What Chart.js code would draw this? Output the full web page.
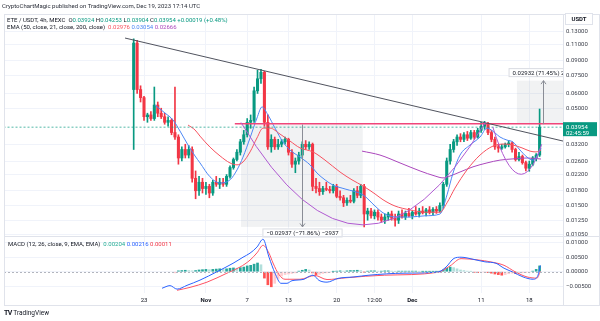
<!DOCTYPE html>
<html>
<head>
<meta charset="utf-8">
<script src="https://cdn.jsdelivr.net/npm/chart.js"></script>
<style>
html, body { margin: 0; padding: 0; background: #fff; }
#wrap { position: relative; width: 600px; height: 321px; overflow: hidden; font-family: Roboto, "Liberation Sans", sans-serif; color: #131722; }
#chartCanvas { position: absolute; left: 0; top: 0; }
.txt { position: absolute; white-space: nowrap; font-size: 6px; line-height: 7px; }
.g { color: #089981; }
.r { color: #f7525f; }
.b { color: #4d88f5; }
.p { color: #ab47bc; }
</style>
</head>
<body>
<div id="wrap">
  <canvas id="chartCanvas" width="600" height="321"></canvas>
  <div class="txt" style="left:2px;top:2px;color:#2a2e39">CryptoChartMagic published on TradingView.com, Dec 19, 2023 17:14 UTC</div>
  <div class="txt" style="left:7px;top:15.5px">ETE / USDT, 4h, MEXC&nbsp; O<span class="g">0.03924</span> H<span class="g">0.04253</span> L<span class="g">0.03904</span> C<span class="g">0.03954</span> <span class="g">+0.00019 (+0.48%)</span></div>
  <div class="txt" style="left:7px;top:22.5px">EMA (50, close, 21, close, 200, close)&nbsp; <span class="r">0.02976</span> <span class="b">0.03054</span> <span class="p">0.02666</span></div>
  <div class="txt" style="left:8px;top:239.5px">MACD (12, 26, close, 9, EMA, EMA)&nbsp; <span style="color:#22ab94">0.00204</span> <span style="color:#2962ff">0.00216</span> <span style="color:#f23645">0.00011</span></div>
  <div class="txt" style="left:4px;top:309.5px;font-size:6.5px"><b style="letter-spacing:-0.6px;font-size:7px">TV</b> TradingView</div>
</div>
<script>
// time unit: days since Oct 23 2023 00:00 UTC, candles every 12h
const candleStart = -1.5;
const candleStep = 0.5;

const opens = [0.063,0.112,0.063,0.057,0.045,0.046,0.044,0.052,0.047,0.045,
  0.042,0.043,0.037,0.035,0.027,0.030,0.028,0.030,0.021,0.018,
  0.020,0.0185,0.019,0.0175,0.020,0.0195,0.020,0.0195,0.0215,0.024,
  0.0265,0.029,0.033,0.036,0.042,0.043,0.062,0.072,0.078,0.042,
  0.031,0.034,0.031,0.032,0.033,0.034,0.029,0.025,0.026,0.028,
  0.032,0.031,0.032,0.019,0.0185,0.0178,0.0185,0.0183,0.018,0.019,
  0.0168,0.0165,0.0155,0.016,0.0158,0.018,0.017,0.019,0.0135,0.014,
  0.0132,0.0138,0.013,0.0125,0.013,0.0135,0.0128,0.0125,0.0135,0.013,
  0.0136,0.0132,0.0138,0.0135,0.014,0.0137,0.0142,0.0138,0.0143,0.014,
  0.015,0.0195,0.026,0.030,0.033,0.035,0.034,0.036,0.0345,0.037,
  0.035,0.038,0.040,0.041,0.037,0.034,0.031,0.0305,0.031,0.032,
  0.0325,0.030,0.0265,0.0275,0.0255,0.0238,0.025,0.027,0.028];
const highs = [0.118,0.116,0.066,0.058,0.047,0.048,0.065,0.054,0.050,0.047,
  0.045,0.044,0.065,0.036,0.031,0.032,0.0315,0.031,0.023,0.0215,
  0.021,0.020,0.0195,0.0205,0.0215,0.021,0.021,0.022,0.0245,0.027,
  0.030,0.034,0.038,0.044,0.046,0.065,0.080,0.081,0.079,0.046,
  0.036,0.035,0.034,0.034,0.035,0.0345,0.030,0.027,0.029,0.033,
  0.0335,0.033,0.0325,0.021,0.020,0.019,0.020,0.019,0.0195,0.0195,
  0.018,0.017,0.0165,0.017,0.0185,0.019,0.0195,0.0195,0.0145,0.0145,
  0.0142,0.0142,0.0135,0.0135,0.0138,0.014,0.0135,0.014,0.0142,0.014,
  0.0145,0.014,0.0148,0.0145,0.0148,0.0145,0.0148,0.0146,0.0148,0.0155,
  0.020,0.027,0.032,0.034,0.036,0.0365,0.037,0.0375,0.038,0.038,
  0.039,0.042,0.0425,0.042,0.038,0.035,0.032,0.032,0.0325,0.0335,
  0.033,0.0305,0.029,0.028,0.026,0.026,0.0275,0.0285,0.0495];
const lows = [0.030,0.060,0.054,0.043,0.042,0.043,0.043,0.045,0.044,0.041,
  0.040,0.036,0.034,0.025,0.026,0.027,0.027,0.020,0.0163,0.017,
  0.0175,0.0172,0.0165,0.017,0.019,0.0185,0.019,0.019,0.021,0.0235,
  0.026,0.028,0.032,0.035,0.039,0.042,0.060,0.068,0.040,0.030,
  0.029,0.030,0.030,0.031,0.032,0.028,0.024,0.0225,0.025,0.027,
  0.030,0.030,0.018,0.0175,0.017,0.0172,0.018,0.0175,0.0175,0.0165,
  0.016,0.0148,0.015,0.0155,0.0155,0.0165,0.0165,0.0115,0.0125,0.0128,
  0.0127,0.0125,0.0122,0.012,0.0125,0.0125,0.0116,0.012,0.0128,0.0126,
  0.013,0.0127,0.0133,0.013,0.0135,0.0132,0.0135,0.0133,0.0136,0.0138,
  0.0145,0.019,0.025,0.029,0.0315,0.033,0.033,0.0335,0.034,0.034,
  0.0345,0.037,0.0385,0.036,0.033,0.030,0.029,0.030,0.0305,0.031,
  0.029,0.026,0.026,0.025,0.023,0.0229,0.0245,0.026,0.0275];
const closes = [0.112,0.063,0.057,0.045,0.046,0.044,0.052,0.047,0.045,0.042,
  0.043,0.037,0.035,0.027,0.030,0.028,0.030,0.021,0.018,0.020,
  0.0185,0.019,0.0175,0.020,0.0195,0.020,0.0195,0.0215,0.024,0.0265,
  0.029,0.033,0.036,0.042,0.043,0.062,0.072,0.078,0.042,0.031,
  0.034,0.031,0.032,0.033,0.034,0.029,0.025,0.026,0.028,0.032,
  0.031,0.032,0.019,0.0185,0.0178,0.0185,0.0183,0.018,0.019,0.0168,
  0.0165,0.0155,0.016,0.0158,0.018,0.017,0.019,0.0135,0.014,0.0132,
  0.0138,0.013,0.0125,0.013,0.0135,0.0128,0.0125,0.0135,0.013,0.0136,
  0.0132,0.0138,0.0135,0.014,0.0137,0.0142,0.0138,0.0143,0.014,0.015,
  0.0195,0.026,0.030,0.033,0.035,0.034,0.036,0.0345,0.037,0.035,
  0.038,0.040,0.041,0.037,0.034,0.031,0.0305,0.031,0.032,0.0325,
  0.030,0.0265,0.0275,0.0255,0.0238,0.025,0.027,0.028,0.03954];

const ema50Days = [6.40,7.41,8.14,9.59,11.05,12.50,13.52,14.39,15.41,16.42,17.30,18.31,19.77,21.22,22.67,24.56,26.31,28.49,30.23,31.83,33.58,34.74,36.48,38.66,40.84,43.02,44.04,45.20,46.95,48.84,50.73,52.47,53.63,54.94,56.10,56.98,57.70];
const ema50 = [0.0406,0.0382,0.0354,0.0309,0.0277,0.0254,0.0248,0.0257,0.0291,0.0346,0.0391,0.0391,0.0363,0.0333,0.0306,0.0291,0.0263,0.0227,0.0206,0.0191,0.0173,0.0161,0.0149,0.0142,0.0138,0.0138,0.0155,0.0186,0.0233,0.0280,0.0313,0.0321,0.0317,0.0306,0.0294,0.0291,0.02976];
const ema21Days = [1.60,3.05,4.22,5.23,6.40,7.41,8.14,9.59,11.05,12.50,13.52,14.39,15.41,16.42,17.15,18.02,19.04,20.20,21.22,22.67,24.13,25.15,26.31,27.47,29.22,31.83,33.58,34.74,36.48,38.66,40.84,43.02,44.04,44.91,45.93,47.38,48.84,49.85,51.02,51.74,52.76,53.63,54.65,55.67,56.54,57.12,57.70];
const ema21 = [0.0520,0.0471,0.0432,0.0377,0.0317,0.0277,0.0254,0.0214,0.0198,0.0206,0.0233,0.0273,0.0346,0.0443,0.0508,0.0460,0.0391,0.0329,0.0298,0.0273,0.0248,0.0224,0.0206,0.0193,0.0184,0.0171,0.0149,0.0137,0.0130,0.0130,0.0132,0.0135,0.0171,0.0224,0.0280,0.0317,0.0350,0.0391,0.0368,0.0350,0.0337,0.0329,0.0298,0.0273,0.0263,0.0277,0.03054];
const ema200Days = [31.69,34.30,37.21,40.12,42.30,43.46,44.48,45.93,47.82,49.85,51.74,53.63,55.67,57.70];
const ema200 = [0.0294,0.0280,0.0254,0.0230,0.0216,0.0211,0.0216,0.0227,0.0242,0.0254,0.0263,0.0267,0.0270,0.02666];

const macdDays = [2.62,3.78,4.80,6.25,8.14,10.61,12.94,14.39,15.41,16.42,17.30,18.17,19.04,19.91,20.78,21.51,23.26,23.84,24.56,25.44,26.60,28.20,30.52,32.70,37.79,42.73,43.90,45.06,46.08,47.82,49.56,51.16,52.33,53.49,55.09,56.54,57.27,57.60];
const macdLine = [-0.0057,-0.0048,-0.0060,-0.0047,-0.0029,0.0000,0.0029,0.0050,0.0064,0.0085,0.0112,0.0050,-0.0005,-0.0040,-0.0040,-0.0031,-0.0026,-0.0018,-0.0012,-0.0030,-0.0036,-0.0023,-0.0018,-0.0012,-0.0005,-0.0001,0.0016,0.0046,0.0050,0.0043,0.0034,0.0029,0.0012,0.0000,-0.0018,-0.0026,-0.0012,0.00216];
const signalDays = [4.80,6.69,9.16,12.06,13.95,15.41,16.42,17.30,18.17,18.75,19.62,20.49,22.67,24.85,26.60,29.36,34.96,42.73,44.48,46.08,48.40,50.58,52.33,53.92,55.67,57.12,57.60];
const signalLine = [-0.0064,-0.0054,-0.0036,-0.0005,0.0016,0.0040,0.0065,0.0091,0.0064,0.0030,-0.0010,-0.0026,-0.0026,-0.0013,-0.0027,-0.0021,-0.0012,-0.0002,0.0020,0.0045,0.0041,0.0033,0.0022,0.0000,-0.0018,-0.0022,0.00011];
// one value per candle, none before the signal line exists
const macdHist = [null,null,null,null,null,null,null,null,null,null,null,null,
  -0.0004,0.0003,0.0004,0.0005,0.0004,0.0003,0.0004,0.0006,0.0007,0.0008,
  0.0007,0.0008,0.0009,0.0010,0.0009,0.0010,0.0012,0.0013,0.0012,0.0014,
  0.0016,0.0020,0.0022,0.0026,0.0030,0.0024,-0.0022,-0.0045,-0.0052,-0.0040,
  -0.0025,-0.0015,-0.0010,-0.0008,-0.0006,-0.0004,0.0002,0.0005,0.0008,0.0006,
  -0.0004,-0.0010,-0.0009,-0.0006,-0.0004,-0.0002,0.0001,0.0002,0.0003,0.0002,
  0.0003,0.0004,0.0004,0.0005,0.0004,-0.0001,0.0002,0.0003,0.0003,0.0002,
  0.0002,0.0003,0.0003,0.0002,0.0001,0.0002,0.0002,0.0002,0.0002,0.0002,
  0.0002,0.0001,0.0001,0.0001,0.0001,0.0001,0.0001,0.0002,0.0006,0.0012,
  0.0016,0.0014,0.0010,0.0006,0.0004,0.0002,0.0001,-0.0002,-0.0003,-0.0002,
  -0.0001,-0.0003,-0.0005,-0.0008,-0.0010,-0.0012,-0.0010,-0.0007,-0.0005,-0.0006,
  -0.0005,-0.0004,-0.0003,-0.0002,0.0002,0.0008,0.0020];

const lastPrice = 0.03954;
const trendDays = [-2.76, 60.9];
const trendPrices = [0.1192, 0.0333];
const levelDays = [13.2, 61];
const levelPrices = [0.0413, 0.0413];

const priceTicks = [0.13, 0.11, 0.09, 0.075, 0.06, 0.05, 0.032, 0.026, 0.022, 0.018, 0.015, 0.0125, 0.0105];
const macdTicks = [-0.005, 0, 0.005, 0.01];
const timeTicks = [0, 9, 15, 21, 28, 33.5, 39, 49, 56];
const timeLabels = ['23', 'Nov', '7', '13', '20', '12:00', 'Dec', '11', '18'];

// drawings on the chart, in days / prices
const dropBox = { from: 14.1, to: 31.8, top: 0.04087, bottom: 0.0115, at: 23.0, label: '\u22120.02937 (\u221271.86%) \u22122937' };
const riseBox = { from: 54.2, to: 62, top: 0.07035, bottom: 0.04103, at: 58.0, label: '0.02932 (71.45%) 2932' };
const bigArc = { start: [14.1, 0.0419], low: [31.85, 0.0118], end: [49.6, 0.0419] };
const smallArc = { start: [50.7, 0.0396], low: [54.4, 0.0222], end: [57.8, 0.0320] };

const UP = '#089981', DOWN = '#f23645';
const FONT = 'Roboto, "Liberation Sans", sans-serif';

const candleDays = opens.map((_, i) => candleStart + i * candleStep);
const pts = (xs, ys) => xs.map((x, i) => ({ x: x, y: ys[i] }));
const candleColor = ctx => closes[ctx.dataIndex] >= opens[ctx.dataIndex] ? UP : DOWN;
const histColor = ctx => {
    const i = ctx.dataIndex, v = macdHist[i], prev = macdHist[i - 1];
    const rising = prev == null || v >= prev;
    if (v >= 0) return rising ? '#26a69a' : '#b2dfdb';
    return rising ? '#ffcdd2' : '#ff5252';
};

const decorations = {
    id: 'decorations',
    beforeDatasetsDraw(chart) {
        const { ctx, chartArea: a, scales: { x, y } } = chart;
        ctx.save();
        ctx.beginPath();
        ctx.rect(a.left, a.top, a.right - a.left, y.bottom - a.top);
        ctx.clip();
        ctx.fillStyle = 'rgba(120,123,134,0.1)';
        [dropBox, riseBox].forEach(b => {
            const x1 = x.getPixelForValue(b.from), x2 = x.getPixelForValue(b.to);
            const y1 = y.getPixelForValue(b.top), y2 = y.getPixelForValue(b.bottom);
            ctx.fillRect(x1, y1, x2 - x1, y2 - y1);
        });
        ctx.restore();
    },
    afterDatasetsDraw(chart) {
        const { ctx, chartArea: a, scales: { x, y, y2 } } = chart;
        ctx.save();
        ctx.beginPath();
        ctx.rect(a.left, a.top, a.right - a.left, a.bottom - a.top);
        ctx.clip();

        // arcs
        ctx.strokeStyle = '#b05ad1';
        ctx.lineWidth = 1;
        [bigArc, smallArc].forEach(arc => {
            const x0 = x.getPixelForValue(arc.start[0]), y0 = y.getPixelForValue(arc.start[1]);
            const x2p = x.getPixelForValue(arc.end[0]), y2p = y.getPixelForValue(arc.end[1]);
            const bx = x.getPixelForValue(arc.low[0]), by = y.getPixelForValue(arc.low[1]);
            ctx.beginPath();
            ctx.moveTo(x0, y0);
            ctx.quadraticCurveTo(2 * bx - (x0 + x2p) / 2, 2 * by - (y0 + y2p) / 2, x2p, y2p);
            ctx.stroke();
        });

        // measure arrows and labels
        ctx.font = '6px ' + FONT;
        ctx.textAlign = 'center';
        ctx.textBaseline = 'middle';
        [[dropBox, 1], [riseBox, -1]].forEach(([b, dir]) => {
            const mx = Math.round(x.getPixelForValue(b.at)) + 0.5;
            const yt = y.getPixelForValue(b.top), yb = y.getPixelForValue(b.bottom);
            ctx.strokeStyle = '#8a8d96';
            ctx.beginPath();
            ctx.moveTo(mx, yt);
            ctx.lineTo(mx, yb);
            const tip = dir > 0 ? yb : yt;
            ctx.moveTo(mx - 2.5, tip - dir * 3.5);
            ctx.lineTo(mx, tip);
            ctx.lineTo(mx + 2.5, tip - dir * 3.5);
            ctx.stroke();
            const w = ctx.measureText(b.label).width + 8;
            const ly = dir > 0 ? yb + 6 : yt - 8;
            ctx.fillStyle = '#fff';
            ctx.strokeStyle = '#d9dbe2';
            ctx.fillRect(mx - w / 2, ly - 4.5, w, 9);
            ctx.strokeRect(mx - w / 2 + 0.5, ly - 4, w - 1, 8);
            ctx.fillStyle = '#131722';
            ctx.fillText(b.label, mx, ly + 0.5);
        });

        // macd zero line
        const zy = Math.round(y2.getPixelForValue(0)) + 0.5;
        ctx.strokeStyle = '#b2b5be';
        ctx.setLineDash([2, 2]);
        ctx.beginPath();
        ctx.moveTo(a.left, zy);
        ctx.lineTo(a.right, zy);
        ctx.stroke();
        ctx.setLineDash([]);
        ctx.restore();

        // frame and pane separator
        ctx.save();
        ctx.strokeStyle = '#e0e3eb';
        ctx.lineWidth = 1;
        ctx.strokeRect(4.5, 14.5, 595, 291);
        const sep = Math.round(y.bottom) + 0.5;
        ctx.beginPath();
        ctx.moveTo(4, sep); ctx.lineTo(600, sep);
        ctx.moveTo(Math.round(a.right) + 0.5, 14); ctx.lineTo(Math.round(a.right) + 0.5, 306);
        ctx.stroke();

        // USDT box
        ctx.fillStyle = '#fff';
        ctx.fillRect(565, 13, 28, 12);
        ctx.strokeRect(565.5, 13.5, 27, 11);
        ctx.fillStyle = '#131722';
        ctx.font = 'bold 6px ' + FONT;
        ctx.textAlign = 'center';
        ctx.textBaseline = 'middle';
        ctx.fillText('USDT', 579, 19.5);

        // last price tag
        const py = y.getPixelForValue(lastPrice);
        ctx.fillStyle = UP;
        ctx.fillRect(a.right, py - 5, 34, 14);
        ctx.fillStyle = '#fff';
        ctx.font = '6px ' + FONT;
        ctx.textAlign = 'left';
        ctx.fillText(lastPrice.toFixed(5), a.right + 3, py);
        ctx.fillText('02:45:59', a.right + 3, py + 6);
        ctx.restore();
    }
};

const ctx = document.getElementById('chartCanvas').getContext('2d');
const chart = new Chart(ctx, {
    type: 'bar',
    data: {
        datasets: [
            { type: 'line', label: 'Trend', data: pts(trendDays, trendPrices), yAxisID: 'y', borderColor: '#50535e', borderWidth: 1, pointRadius: 0, order: 0 },
            { type: 'line', label: 'Level', data: pts(levelDays, levelPrices), yAxisID: 'y', borderColor: '#f0467a', borderWidth: 1.5, pointRadius: 0, order: 0 },
            { type: 'line', label: 'Last', data: pts([-21, 62], [lastPrice, lastPrice]), yAxisID: 'y', borderColor: 'rgba(8,153,129,0.7)', borderWidth: 1, borderDash: [2, 2], pointRadius: 0, order: 0 },
            { type: 'line', label: 'EMA 50', data: pts(ema50Days, ema50), yAxisID: 'y', borderColor: '#f7525f', borderWidth: 1, pointRadius: 0, cubicInterpolationMode: 'monotone', order: 0 },
            { type: 'line', label: 'EMA 21', data: pts(ema21Days, ema21), yAxisID: 'y', borderColor: '#4d88f5', borderWidth: 1, pointRadius: 0, cubicInterpolationMode: 'monotone', order: 0 },
            { type: 'line', label: 'EMA 200', data: pts(ema200Days, ema200), yAxisID: 'y', borderColor: '#ab47bc', borderWidth: 1, pointRadius: 0, cubicInterpolationMode: 'monotone', order: 0 },
            { label: 'Wicks', data: candleDays.map((d, i) => ({ x: d, y: [lows[i], highs[i]] })), yAxisID: 'y', backgroundColor: candleColor, barThickness: 1, grouped: false, order: 2 },
            { label: 'Bodies', data: candleDays.map((d, i) => ({ x: d, y: [opens[i], closes[i]] })), yAxisID: 'y', backgroundColor: candleColor, barThickness: 2.4, grouped: false, order: 1 },
            { label: 'Histogram', data: pts(candleDays, macdHist), yAxisID: 'y2', backgroundColor: histColor, barThickness: 2, grouped: false, order: 2 },
            { type: 'line', label: 'MACD', data: pts(macdDays, macdLine), yAxisID: 'y2', borderColor: '#2962ff', borderWidth: 1, pointRadius: 0, cubicInterpolationMode: 'monotone', order: 0 },
            { type: 'line', label: 'Signal', data: pts(signalDays, signalLine), yAxisID: 'y2', borderColor: '#ff5263', borderWidth: 1, pointRadius: 0, cubicInterpolationMode: 'monotone', order: 0 }
        ]
    },
    options: {
        responsive: false,
        animation: false,
        events: [],
        layout: { padding: { top: 14, left: 4, right: 0, bottom: 14 } },
        plugins: { legend: { display: false }, tooltip: { enabled: false } },
        scales: {
            x: {
                type: 'linear',
                min: -20.35,
                max: 60.9,
                offset: false,
                afterBuildTicks: s => { s.ticks = timeTicks.map(v => ({ value: v })); },
                afterFit: s => { s.height = 14; },
                grid: { color: '#f0f3fa', drawTicks: false, offset: false },
                border: { display: false },
                ticks: {
                    autoSkip: false,
                    maxRotation: 0,
                    padding: 4,
                    color: '#131722',
                    font: c => ({ family: FONT, size: 6, weight: (c.index === 1 || c.index === 6) ? 'bold' : 'normal' }),
                    callback: (v, i) => timeLabels[i]
                }
            },
            y: {
                type: 'logarithmic',
                position: 'right',
                stack: 'panes',
                stackWeight: 222,
                min: 0.01028,
                max: 0.1605,
                afterBuildTicks: s => { s.ticks = priceTicks.map(v => ({ value: v })); },
                afterFit: s => { s.width = 37; },
                grid: { color: '#f0f3fa', drawTicks: false },
                border: { display: false },
                ticks: { autoSkip: false, padding: 3, color: '#3b3f4a', font: { family: FONT, size: 6 }, callback: v => v.toFixed(5) }
            },
            y2: {
                type: 'linear',
                position: 'right',
                stack: 'panes',
                stackWeight: 57,
                min: -0.00734,
                max: 0.01231,
                afterBuildTicks: s => { s.ticks = macdTicks.map(v => ({ value: v })); },
                afterFit: s => { s.width = 37; },
                grid: { color: '#f0f3fa', drawTicks: false },
                border: { display: false },
                ticks: { autoSkip: false, padding: 3, color: '#3b3f4a', font: { family: FONT, size: 6 }, callback: v => (v < 0 ? '\u2212' : '') + Math.abs(v).toFixed(5) }
            }
        }
    },
    plugins: [decorations]
});
</script>
</body>
</html>
